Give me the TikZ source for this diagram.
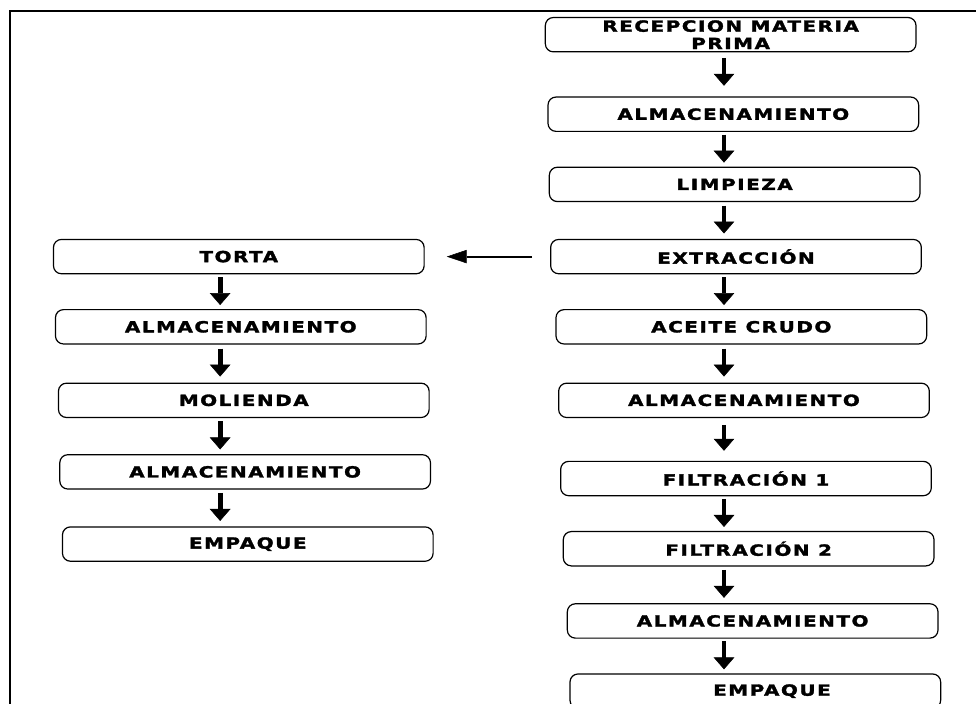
\documentclass[tikz,border=0pt]{standalone}
\usepackage{fontspec}
\newfontfamily\cajafont[FakeStretch=1.3,LetterSpace=10,FakeBold=2]{DejaVu Sans}
\usepackage{tikz}
\usetikzlibrary{arrows.meta, positioning}
\tikzset{
  paso/.style={rectangle, rounded corners=6pt, minimum width=278pt,
    minimum height=25.75pt, inner sep=1.5pt, text centered, draw=black,
    line width=0.9pt, fill=white,
    font=\cajafont\bfseries\fontsize{11.5}{12.5}\selectfont},
  flecha/.style={-{Triangle[width=15.5pt,length=9pt,line width=0.4pt]},
    line width=3.6pt},
  flechah/.style={-{Triangle[width=10pt,length=15pt,line width=0.4pt]},
    line width=1.6pt},
  marco/.style={line width=2.2pt},
}

\begin{document}
\begin{tikzpicture}
  \useasboundingbox (0,0) rectangle (732pt,-528pt);
  \draw[marco] (7.5pt,-528pt) |- (732pt,-8.25pt);
  % linea del aceite
  \node[paso, align=center] (r1) at (548pt,-26pt) {RECEPCION MATERIA\\[0.5pt]PRIMA};
  \node[paso, below=33pt of r1, xshift=2pt] (r2) {ALMACENAMIENTO};
  \node[paso, below=26pt of r2, xshift=1pt] (r3) {LIMPIEZA};
  \node[paso, below=27.5pt of r3, xshift=1pt] (r4) {EXTRACCIÓN};
  \node[paso, below=26pt of r4, xshift=4pt] (r5) {ACEITE CRUDO};
  \node[paso, below=28.5pt of r5, xshift=2pt] (r6) {ALMACENAMIENTO};
  \node[paso, below=32pt of r6, xshift=1.5pt] (r7) {FILTRACIÓN 1};
  \node[paso, below=26pt of r7, xshift=2pt] (r8) {FILTRACIÓN 2};
  \node[paso, below=27.5pt of r8, xshift=3pt] (r9) {ALMACENAMIENTO};
  \node[paso, below=26pt of r9, xshift=2pt] (r10) {\hspace*{25pt}EMPAQUE};
  % linea de la torta
  \node[paso, left=94pt of r4] (l1) {TORTA};
  \node[paso, below=26pt of l1, xshift=1.5pt] (l2) {ALMACENAMIENTO};
  \node[paso, below=28.5pt of l2, xshift=2.25pt] (l3) {MOLIENDA};
  \node[paso, below=27pt of l3, xshift=1pt] (l4) {ALMACENAMIENTO};
  \node[paso, below=27.5pt of l4, xshift=2pt] (l5) {EMPAQUE};
  \coordinate[xshift=-5pt] (ejeR) at (r1.south);
  \coordinate[xshift=-14pt] (ejeL) at (l1.south);
  \draw[flecha, shorten <=4pt, shorten >=8pt] (ejeR |- r1.south) -- (ejeR |- r2.north);
  \draw[flecha, shorten <=2pt, shorten >=3pt] (ejeR |- r2.south) -- (ejeR |- r3.north);
  \draw[flecha, shorten <=2.5pt, shorten >=4pt] (ejeR |- r3.south) -- (ejeR |- r4.north);
  \draw[flecha, shorten <=2pt, shorten >=3pt] (ejeR |- r4.south) -- (ejeR |- r5.north);
  \draw[flecha, shorten <=3pt, shorten >=4.5pt] (ejeR |- r5.south) -- (ejeR |- r6.north);
  \draw[flecha, shorten <=5pt, shorten >=7.5pt] (ejeR |- r6.south) -- (ejeR |- r7.north);
  \draw[flecha, shorten <=2pt, shorten >=3pt] (ejeR |- r7.south) -- (ejeR |- r8.north);
  \draw[flecha, shorten <=2.5pt, shorten >=4pt] (ejeR |- r8.south) -- (ejeR |- r9.north);
  \draw[flecha, shorten <=2pt, shorten >=3pt] (ejeR |- r9.south) -- (ejeR |- r10.north);
  \draw[flecha, shorten <=2pt, shorten >=3pt] (ejeL |- l1.south) -- (ejeL |- l2.north);
  \draw[flecha, shorten <=3pt, shorten >=4.5pt] (ejeL |- l2.south) -- (ejeL |- l3.north);
  \draw[flecha, shorten <=2.5pt, shorten >=3.5pt] (ejeL |- l3.south) -- (ejeL |- l4.north);
  \draw[flecha, shorten <=2.5pt, shorten >=4pt] (ejeL |- l4.south) -- (ejeL |- l5.north);
  \draw[flechah, shorten <=13.5pt, shorten >=16.5pt] (r4.west) -- (l1.east);
\end{tikzpicture}
\end{document}
